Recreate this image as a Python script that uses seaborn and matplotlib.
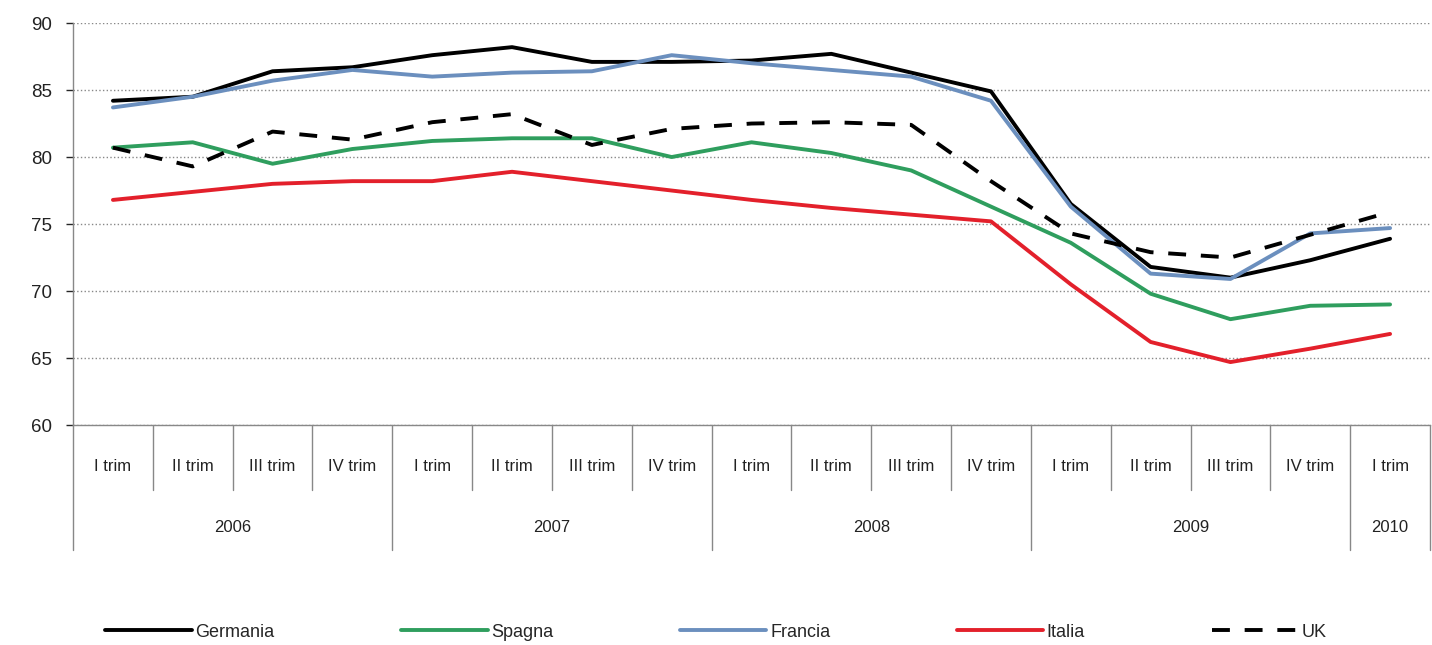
"""Utilizzo della capacità produttiva: Germania, Spagna, Francia, Italia, UK (2006-2010)."""

import matplotlib

matplotlib.use("Agg")
import matplotlib.pyplot as plt
import matplotlib.transforms as mtransforms
import pandas as pd
import seaborn as sns

QUARTERS = ["I trim", "II trim", "III trim", "IV trim"] * 4 + ["I trim"]
YEARS = ["2006", "2007", "2008", "2009", "2010"]
YEAR_SPANS = [4, 4, 4, 4, 1]  # numero di trimestri per anno

GERMANIA = [84.2, 84.5, 86.4, 86.7, 87.6, 88.2, 87.1, 87.1, 87.2, 87.7, 86.3, 84.9,
            76.5, 71.8, 71.0, 72.3, 73.9]
SPAGNA = [80.7, 81.1, 79.5, 80.6, 81.2, 81.4, 81.4, 80.0, 81.1, 80.3, 79.0, 76.3,
          73.6, 69.8, 67.9, 68.9, 69.0]
FRANCIA = [83.7, 84.5, 85.7, 86.5, 86.0, 86.3, 86.4, 87.6, 87.0, 86.5, 86.0, 84.2,
           76.3, 71.3, 70.9, 74.3, 74.7]
ITALIA = [76.8, 77.4, 78.0, 78.2, 78.2, 78.9, 78.2, 77.5, 76.8, 76.2, 75.7, 75.2,
          70.5, 66.2, 64.7, 65.7, 66.8]
UK = [80.7, 79.3, 81.9, 81.3, 82.6, 83.2, 80.9, 82.1, 82.5, 82.6, 82.4, 78.2,
      74.3, 72.9, 72.5, 74.2, 75.9]

SERIES = {
    "Germania": (GERMANIA, "#000000", "-"),
    "Spagna": (SPAGNA, "#2f9e5e", "-"),
    "Francia": (FRANCIA, "#6b8fbe", "-"),
    "Italia": (ITALIA, "#e3202b", "-"),
    "UK": (UK, "#000000", (0, (4.6, 3.8))),
}

sns.set_style("white")
plt.rcParams["font.family"] = ["Liberation Sans", "DejaVu Sans"]

fig = plt.figure(figsize=(14.32, 6.45), dpi=100)
ax = fig.add_axes([0.051, 0.341, 0.9476, 0.6233])

idx = list(range(len(QUARTERS)))
for name, (vals, color, ls) in SERIES.items():
    df = pd.DataFrame({"x": idx, "y": vals})
    sns.lineplot(data=df, x="x", y="y", ax=ax, color=color, linewidth=2.8,
                 label=name, linestyle=ls)

ax.set_xlim(-0.5, len(QUARTERS) - 0.5)
ax.set_ylim(60, 90)
ax.set_yticks(range(60, 91, 5))
ax.yaxis.grid(True, linestyle=":", color="#888888", linewidth=1.0)
ax.tick_params(axis="y", labelsize=13.5, length=5, width=1,
               direction="out", left=True, pad=10)
for lab in ax.get_yticklabels():
    lab.set_color("#222222")
ax.set_xticks([])
ax.set_xlabel("")
ax.set_ylabel("")
for side in ("top", "right"):
    ax.spines[side].set_visible(False)
for side in ("left", "bottom"):
    ax.spines[side].set_color("#888888")
    ax.spines[side].set_linewidth(1.0)

# asse categorie su due livelli: trimestri e anni
trans = mtransforms.blended_transform_factory(ax.transData, ax.transAxes)
for i, q in enumerate(QUARTERS):
    ax.text(i, -0.102, q, transform=trans, ha="center", va="center",
            fontsize=12, color="#222222")
year_edges = [0]
for span in YEAR_SPANS:
    year_edges.append(year_edges[-1] + span)
for k in range(len(QUARTERS) + 1):
    bottom = -0.311 if k in year_edges else -0.162
    ax.plot([k - 0.5, k - 0.5], [0, bottom], transform=trans, color="#888888",
            linewidth=1.0, clip_on=False)
for year, a, b in zip(YEARS, year_edges[:-1], year_edges[1:]):
    ax.text((a + b - 1) / 2, -0.254, year, transform=trans, ha="center",
            va="center", fontsize=12, color="#222222")

handles, labels = ax.get_legend_handles_labels()
ax.get_legend().remove()
fig.legend(handles, labels, loc="center", bbox_to_anchor=(0.5, 0.02),
           ncol=5, frameon=False, fontsize=13, handlelength=4.8,
           handletextpad=0.2, columnspacing=7.0)

fig.savefig("out.png", dpi=100)
